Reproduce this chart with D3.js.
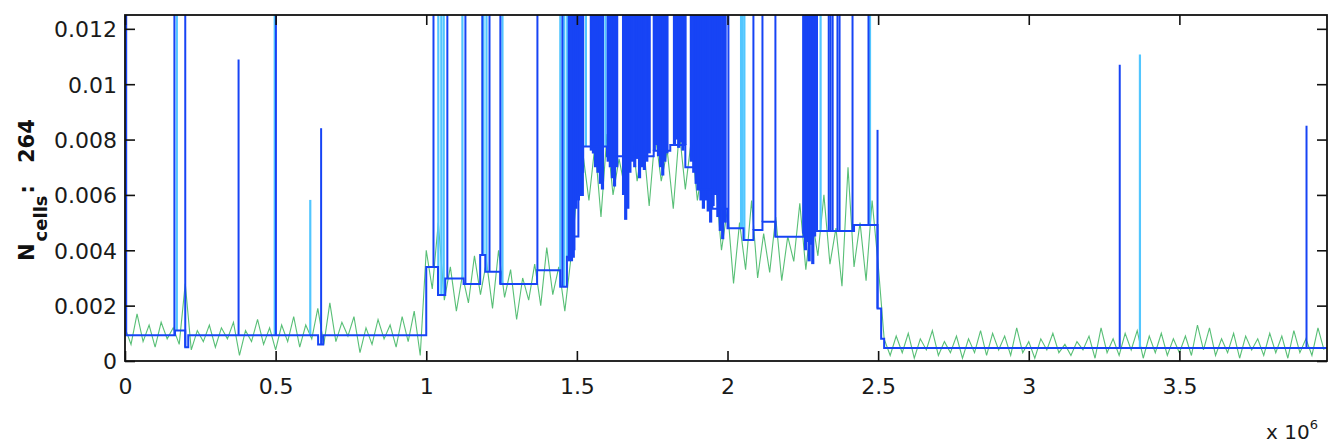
<!DOCTYPE html>
<html><head><meta charset="utf-8">
<script src="https://cdn.jsdelivr.net/npm/d3@7"></script>
<style>body{margin:0;background:#fff}svg{display:block}</style>
</head><body>
<svg id="chart" width="1330" height="446"></svg>
<script>
// ---------- data (x in units of 1e6) ----------
const xTicks = [0, 0.5, 1, 1.5, 2, 2.5, 3, 3.5];
const yTicks = [0, 0.002, 0.004, 0.006, 0.008, 0.01, 0.012];
const yTickLabels = ["0", "0.002", "0.004", "0.006", "0.008", "0.01", "0.012"];
const xMax = 3.99;
const yMax = 0.0125;

// green noisy series, sampled every 0.02e6
const greenStep = 0.02;
const greenY = [
  0.0012,0.0006,0.0017,0.0007,0.0013,0.0005,0.0014,0.0008,0.0012,0.0006,
  0.0028,0.0004,0.0011,0.0007,0.0013,0.0005,0.0012,0.0008,0.0014,0.0002,
  0.0011,0.0007,0.0015,0.0006,0.0012,0.0004,0.0013,0.0007,0.0016,0.0005,
  0.0013,0.0008,0.0019,0.0006,0.0021,0.0007,0.0014,0.0009,0.0016,0.0003,
  0.0012,0.0006,0.0015,0.0008,0.0013,0.0005,0.0016,0.0007,0.0018,0.0002,
  0.0040,0.0026,0.0050,0.0022,0.0034,0.0018,0.0031,0.0021,0.0038,0.0024,
  0.0036,0.0019,0.0040,0.0023,0.0033,0.0015,0.0030,0.0022,0.0035,0.0020,
  0.0041,0.0024,0.0034,0.0018,0.0037,
  0.0060,0.0075,0.0058,0.0078,0.0052,0.0082,0.0060,0.0073,0.0062,0.0085,
  0.0065,0.0080,0.0056,0.0082,0.0065,0.0076,0.0055,0.0083,0.0062,0.0080,
  0.0058,0.0072,0.0055,0.0065,0.0040,
  0.0055,0.0028,0.0050,0.0033,0.0058,0.0030,0.0046,0.0032,0.0052,0.0029,
  0.0045,0.0036,0.0057,0.0033,0.0052,0.0038,0.0060,0.0035,0.0048,0.0027,
  0.0070,0.0034,0.0050,0.0029,0.0058,
  0.0035,0.0008,0.0002,0.0009,0.0003,0.0010,0.0001,0.0008,0.0004,0.0011,
  0.0002,0.0007,0.0003,0.0009,0.0001,0.0008,0.0003,0.0011,0.0002,0.0010,
  0.0004,0.0009,0.0002,0.0012,0.0003,0.0007,0.0001,0.0008,0.0004,0.0010,
  0.0003,0.0006,0.0002,0.0007,0.0004,0.0009,0.0001,0.0012,0.0003,0.0008,
  0.0002,0.0010,0.0004,0.0011,0.0001,0.0009,0.0003,0.0010,0.0002,0.0008,
  0.0003,0.0009,0.0002,0.0013,0.0004,0.0012,0.0002,0.0008,0.0003,0.0010,
  0.0001,0.0009,0.0004,0.0008,0.0002,0.0010,0.0003,0.0009,0.0001,0.0011,
  0.0003,0.0008,0.0002,0.0012,0.0004
];

// blue step (segmentation) line
const stepX = [0,0.166,0.2,0.21,0.641,0.658,1.0,1.039,1.063,1.124,1.179,1.196,1.246,1.368,1.445,1.467,
  1.49,1.505,1.52,1.60,1.755,1.81,1.86,1.90,1.95,2.0,2.053,2.086,2.116,2.159,2.253,2.42,2.498,2.51,2.52,3.99];
const stepY = [0.00093,0.0011,0.0005,0.00093,0.0006,0.00093,0.0034,0.00238,0.00298,0.00278,0.00383,0.00322,0.00278,0.00328,0.00268,0.00377,
  0.0045,0.0060,0.00775,0.0074,0.0076,0.0078,0.0070,0.0062,0.0055,0.0048,0.00437,0.00473,0.00503,0.00449,0.0047,0.00491,0.0019,0.0008,0.00047,0.00047];

// dark blue spikes (from step level up to peak)
const spikeX = [0.004,0.164,0.2,0.377,0.501,0.651,1.024,1.07,1.13,1.186,1.21,1.246,1.369,1.452,
  2.003,2.086,2.116,2.159,2.336,2.342,2.349,2.365,2.372,2.415,2.468,2.498,3.302,3.922];
const spikePeak = [0.0125,0.0125,0.0125,0.01089,0.0125,0.00841,0.0125,0.0125,0.0125,0.0125,0.0125,0.0125,0.0125,0.0125,
  0.0125,0.0125,0.0125,0.0125,0.0125,0.0125,0.0125,0.0125,0.0125,0.0125,0.0125,0.00835,0.0107,0.0085];

// light blue spikes
const lightX = [0.172,0.497,0.615,1.04,1.05,1.058,1.12,1.19,1.20,1.253,1.445,1.458,1.468,1.53,1.595,
  2.045,2.05,2.056,2.309,2.473,3.369];
const lightPeak = [0.0125,0.0125,0.00582,0.0125,0.0125,0.0125,0.0125,0.0125,0.0125,0.0125,0.0125,0.0125,0.0125,0.0125,0.0125,
  0.0125,0.0125,0.0125,0.0125,0.0125,0.01107];

// dense blue oscillation: lower end of each excursion (upper end leaves the axes)
const denseX = [1.475,1.482,1.49,1.497,1.505,1.512,1.519,
  1.548,1.555,1.562,1.570,1.578,1.585,
  1.604,1.611,1.618,1.625,1.632,
  1.655,1.662,1.669,1.676,1.684,1.692,1.700,1.708,1.716,1.724,1.732,1.740,
  1.757,1.764,1.771,1.778,1.785,1.792,1.799,
  1.824,1.831,1.838,1.845,1.852,1.859,
  1.880,1.888,1.896,1.904,1.912,1.920,1.928,1.936,1.944,1.952,1.960,1.968,1.976,1.984,1.992,
  2.253,2.259,2.265,2.271,2.277,2.283,2.289,2.295];
const denseLow = [0.0036,0.0036,0.0040,0.0055,0.0058,0.0060,0.0068,
  0.0076,0.0075,0.0070,0.0068,0.0064,0.0062,
  0.0072,0.0070,0.0066,0.0063,0.0070,
  0.0060,0.0051,0.0055,0.0068,0.0072,0.0070,0.0073,0.0066,0.0070,0.0069,0.0072,0.0075,
  0.0076,0.0078,0.0074,0.0070,0.0067,0.0072,0.0075,
  0.0078,0.0080,0.0077,0.0079,0.0076,0.0078,
  0.0072,0.0068,0.0064,0.0062,0.0058,0.0055,0.0058,0.0054,0.0050,0.0056,0.0060,0.0052,0.0047,0.0044,0.0050,
  0.0046,0.0040,0.0043,0.0036,0.0042,0.0035,0.0045,0.0047];

// ---------- drawing ----------
const svg = d3.select("#chart");
const L = 125, R = 1327, T = 15, B = 361;
const x = d3.scaleLinear().domain([0, xMax]).range([L, R]);
const y = d3.scaleLinear().domain([0, yMax]).range([B, T]);

const DARK = "#1744f5", LIGHT = "#52c6ff", GREEN = "#3bb45e";

svg.append("defs").append("clipPath").attr("id", "clip")
  .append("rect").attr("x", L).attr("y", T).attr("width", R - L).attr("height", B - T);

const plot = svg.append("g").attr("clip-path", "url(#clip)");

const levelAt = v => stepY[Math.max(0, d3.bisectRight(stepX, v) - 1)];

// green
const greenData = greenY.map((v, i) => [i * greenStep, v]);
plot.append("path").datum(greenData)
  .attr("fill", "none").attr("stroke", GREEN).attr("stroke-width", 1.1).attr("opacity", 0.85)
  .attr("d", d3.line().x(d => x(d[0])).y(d => y(d[1])));

// light blue spikes
plot.selectAll("line.light").data(lightX.map((v, i) => ({x: v, p: lightPeak[i]})))
  .join("line").attr("class", "light")
  .attr("x1", d => x(d.x)).attr("x2", d => x(d.x))
  .attr("y1", d => y(levelAt(d.x))).attr("y2", d => y(d.p))
  .attr("stroke", LIGHT).attr("stroke-width", 2.2);

// dense dark band
plot.selectAll("line.dense").data(denseX.map((v, i) => ({x: v, lo: denseLow[i]})))
  .join("line").attr("class", "dense")
  .attr("x1", d => x(d.x)).attr("x2", d => x(d.x))
  .attr("y1", d => y(d.lo)).attr("y2", y(yMax) - 2)
  .attr("stroke", DARK).attr("stroke-width", 3.2);

// step line
plot.append("path").datum(stepX.map((v, i) => [v, stepY[i]]))
  .attr("fill", "none").attr("stroke", DARK).attr("stroke-width", 2)
  .attr("d", d3.line().curve(d3.curveStepAfter).x(d => x(d[0])).y(d => y(d[1])));

// dark spikes
plot.selectAll("line.spike").data(spikeX.map((v, i) => ({x: v, p: spikePeak[i]})))
  .join("line").attr("class", "spike")
  .attr("x1", d => x(d.x)).attr("x2", d => x(d.x))
  .attr("y1", d => y(levelAt(d.x))).attr("y2", d => d.p >= yMax ? y(yMax) - 2 : y(d.p))
  .attr("stroke", DARK).attr("stroke-width", 2);

// ---------- axes ----------
const font = "'DejaVu Sans', sans-serif";
const xAxis = svg.append("g").attr("transform", `translate(0,${B})`)
  .call(d3.axisBottom(x).tickValues(xTicks).tickFormat(d3.format("")).tickSizeInner(-10).tickSizeOuter(0).tickPadding(17));
const xAxisTop = svg.append("g").attr("transform", `translate(0,${T})`)
  .call(d3.axisTop(x).tickValues(xTicks).tickFormat("").tickSizeInner(-10).tickSizeOuter(0));
const yAxis = svg.append("g").attr("transform", `translate(${L},0)`)
  .call(d3.axisLeft(y).tickValues(yTicks).tickFormat((d, i) => yTickLabels[i]).tickSizeInner(-10).tickSizeOuter(0).tickPadding(8));
const yAxisR = svg.append("g").attr("transform", `translate(${R},0)`)
  .call(d3.axisRight(y).tickValues(yTicks).tickFormat("").tickSizeInner(-10).tickSizeOuter(0));

[xAxis, xAxisTop, yAxis, yAxisR].forEach(g => {
  g.select(".domain").remove();
  g.selectAll(".tick line").attr("stroke", "#111").attr("stroke-width", 1.6);
  g.selectAll(".tick text").attr("fill", "#1a1a1a").style("font-family", font).style("font-size", "22px");
});
yAxis.selectAll(".tick text").attr("dy", "0.36em");

// frame
svg.append("rect").attr("x", L).attr("y", T).attr("width", R - L).attr("height", B - T)
  .attr("fill", "none").attr("stroke", "#111").attr("stroke-width", 1.8);

// y label: N_cells : 264
const yl = svg.append("text")
  .attr("transform", "translate(34,261) rotate(-90)")
  .attr("fill", "#111").style("font-family", "'DejaVu Sans', sans-serif").style("font-weight", "bold");
yl.append("tspan").style("font-size", "21px").text("N");
yl.append("tspan").style("font-size", "18px").attr("dx", 2).attr("dy", 13).text("cells");
yl.append("tspan").style("font-size", "21px").attr("dx", 2).attr("dy", -13).text(":");
yl.append("tspan").style("font-size", "21px").attr("dx", 22).text("264");

// x 10^6
const xm = svg.append("text").attr("x", 1266).attr("y", 439).attr("fill", "#1a1a1a")
  .style("font-family", font).style("font-size", "20px");
xm.append("tspan").text("x 10");
xm.append("tspan").style("font-size", "13px").attr("dy", -10).text("6");
</script>
</body></html>
